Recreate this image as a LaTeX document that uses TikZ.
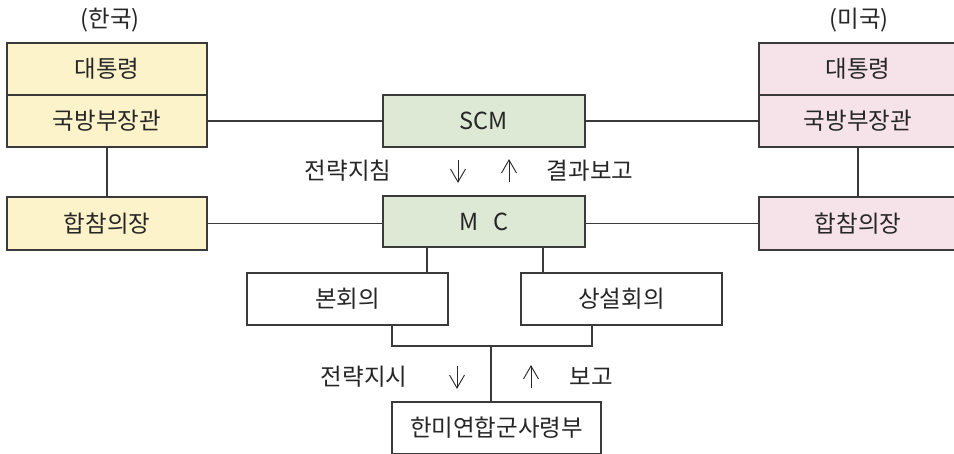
\documentclass[tikz,border=0pt]{standalone}
\usepackage{fontspec}
\setmainfont{Noto Sans CJK KR}
\definecolor{kyellow}{HTML}{FDF3CB}
\definecolor{kgreen}{HTML}{DDE8D5}
\definecolor{kpink}{HTML}{F5E3E9}
\definecolor{kline}{HTML}{3A3A3A}
\definecolor{ktext}{HTML}{262626}
\tikzset{
  box/.style={draw=kline, line width=1.2pt, rectangle, inner sep=0pt,
    minimum width=#1, minimum height=52pt, text=ktext,
    font=\fontsize{23.5}{26}\selectfont},
  box/.default=200pt,
  link/.style={draw=kline, line width=1.2pt},
  lbl/.style={text=ktext, font=\fontsize{23.5}{26}\selectfont, inner sep=0pt},
  % thin open-headed arrow, drawn around a named point
  arrline/.style={draw=ktext, line width=0.9pt, line join=miter},
}
\newcommand{\downarrowat}[1]{%
  \draw[arrline] ([yshift=11pt]#1) -- ([yshift=-11pt]#1);
  \draw[arrline] ([xshift=-7.5pt,yshift=2pt]#1) -- ([yshift=-11pt]#1) -- ([xshift=7.5pt,yshift=2pt]#1);}
\newcommand{\uparrowat}[1]{%
  \draw[arrline] ([yshift=-11pt]#1) -- ([yshift=11pt]#1);
  \draw[arrline] ([xshift=-7.5pt,yshift=-2pt]#1) -- ([yshift=11pt]#1) -- ([xshift=7.5pt,yshift=-2pt]#1);}
\begin{document}
\begin{tikzpicture}[x=1pt, y=-1pt]
\useasboundingbox (0,0) rectangle (954,454);
\fill[white] (0,0) rectangle (954,454);

% Korea column
\node[lbl] (korea) at (110,20) {(한국)};
\node[box, fill=kyellow] (kpres) at (107,69) {대통령};
\node[box, fill=kyellow] (kmnd) at (107,121) {국방부장관};
\node[box, fill=kyellow, minimum height=53pt] (kjcs) at (107,223.5) {합참의장};

% US column
\node[lbl] (usa) at (859,20) {(미국)};
\node[box=198pt, fill=kpink] (upres) at (858,69) {대통령};
\node[box=198pt, fill=kpink] (umnd) at (858,121) {국방부장관};
\node[box=198pt, fill=kpink, minimum height=53pt] (ujcs) at (858,223.5) {합참의장};

% combined meetings
\node[box=202pt, fill=kgreen] (scm) at (484,121) {SCM};
\node[box=202pt, fill=kgreen, minimum height=51pt] (mc) at (484,221.5) {M\hspace{0.6em}C};

\node[box=201pt] (bon) at (347.5,299) {본회의};
\node[box=201pt] (sang) at (621.5,299) {상설회의};
\node[box=209pt] (hq) at (496.5,428) {한미연합군사령부};

% labels between the levels
\node[lbl] (t1) at (348,171) {전략지침};
\coordinate (a1) at (458,171);
\coordinate (a2) at (509,171);
\node[lbl] (t2) at (590,171) {결과보고};

\node[lbl] (t3) at (364,377) {전략지시};
\coordinate (a3) at (457,377);
\coordinate (a4) at (531,377);
\node[lbl] (t4) at (591,377) {보고};

\downarrowat{a1}
\uparrowat{a2}
\downarrowat{a3}
\uparrowat{a4}

% connectors
\coordinate (k1) at (427,0);
\coordinate (k2) at (543,0);
\coordinate (k3) at (392,0);
\coordinate (k4) at (592,0);
\coordinate (k5) at (491,0);
\coordinate (j) at (0,346);

\draw[link] (kmnd.east) -- (scm.west);
\draw[link] (scm.east) -- (umnd.west);
\draw[link] (kjcs.east) -- (kjcs.east -| mc.west);
\draw[link] (ujcs.west -| mc.east) -- (ujcs.west);
\draw[link] (kmnd.south) -- (kjcs.north);
\draw[link] (umnd.south) -- (ujcs.north);
\draw[link] (k1 |- mc.south) -- (k1 |- bon.north);
\draw[link] (k2 |- mc.south) -- (k2 |- sang.north);
\draw[link] (k3 |- bon.south) -- (k3 |- j) -- (k4 |- j) -- (k4 |- sang.south);
\draw[link] (k5 |- j) -- (k5 |- hq.north);
\end{tikzpicture}
\end{document}
